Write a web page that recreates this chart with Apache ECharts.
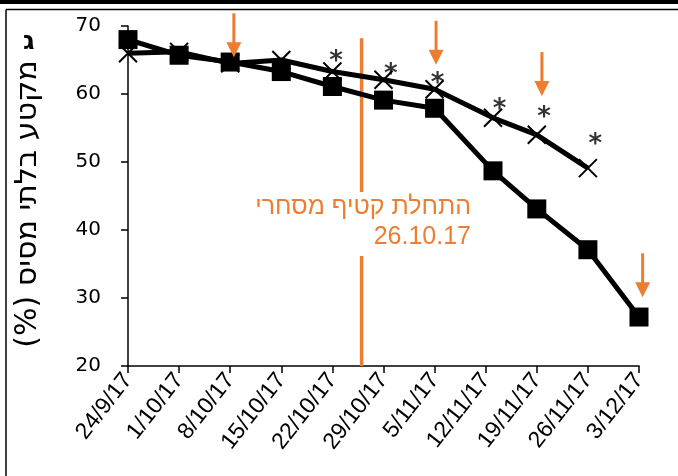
<!DOCTYPE html>
<html>
<head>
<meta charset="utf-8">
<script src="https://cdn.jsdelivr.net/npm/echarts@6/dist/echarts.min.js"></script>
<style>
  html, body { margin: 0; padding: 0; background: #fff; }
  #chart { width: 678px; height: 476px; }
</style>
</head>
<body>
<div id="chart"></div>
<script>
// Sampling days counted from 24/9/17, and the weekly tick labels
const tickLabels = ['24/9/17', '1/10/17', '8/10/17', '15/10/17', '22/10/17', '29/10/17',
                    '5/11/17', '12/11/17', '19/11/17', '26/11/17', '3/12/17'];
const squareDays = [0, 7, 14, 21, 28, 35, 42, 50, 56, 63, 70];
const squareValues = [68.0, 65.7, 64.7, 63.3, 61.1, 59.1, 57.9, 48.7, 43.1, 37.1, 27.2];
const crossDays = [0, 7, 14, 21, 28, 35, 42, 50, 56, 63];
const crossValues = [66.0, 66.2, 64.5, 65.0, 63.3, 62.1, 60.7, 56.5, 54.0, 49.1];

// Significance marks (day, level)
const starDays = [28.5, 36.0, 42.4, 50.9, 57.0, 64.0];
const starValues = [65.7, 63.8, 62.5, 58.7, 57.4, 53.5];

// Orange arrows: day and the level of the arrow tip
const arrowDays = [14.5, 42.2, 56.7, 70.5];
const arrowTips = [65.4, 64.3, 59.7, 30.1];

// Start of commercial harvest, 26.10.17
const harvestDay = 32;
const harvestTop = 68.2;

const yTitle = 'מקטע בלתי מסיס (%)\u200F';
const harvestNote = 'התחלת קטיף מסחרי\n26.10.17';
const panelLetter = 'ג';

const ORANGE = '#ED7D31';
const FONT = "'Liberation Sans', 'DejaVu Sans', sans-serif";
const WIDE = "'DejaVu Sans', 'Liberation Sans', sans-serif";

const chart = echarts.init(document.getElementById('chart'), null, { renderer: 'canvas' });

const option = {
  animation: false,
  backgroundColor: '#fff',
  grid: { left: 128, right: 39, top: 26, bottom: 110, containLabel: false },
  xAxis: {
    type: 'value',
    min: 0, max: 70, interval: 7,
    axisLine: { show: true, lineStyle: { color: '#000', width: 1.5 } },
    axisTick: { show: true, length: 7, lineStyle: { color: '#000', width: 1.5 } },
    splitLine: { show: false },
    axisLabel: {
      rotate: 52, margin: 10, color: '#000', fontSize: 23, fontFamily: FONT,
      formatter: v => tickLabels[Math.round(v / 7)] || ''
    }
  },
  yAxis: {
    type: 'value',
    min: 20, max: 70, interval: 10,
    axisLine: { show: true, lineStyle: { color: '#000', width: 1.5 } },
    axisTick: { show: true, inside: false, length: 7, lineStyle: { color: '#000', width: 1.5 } },
    splitLine: { show: false },
    axisLabel: { margin: 27, color: '#000', fontSize: 20, fontFamily: WIDE }
  },
  series: [
    {
      type: 'line',
      data: crossDays.map((d, i) => [d, crossValues[i]]),
      symbol: 'path://M0,0L10,10M10,0L0,10',
      symbolSize: 18,
      lineStyle: { color: '#000', width: 5 },
      itemStyle: { color: '#000', borderColor: '#000', borderWidth: 2 },
      z: 3
    },
    {
      type: 'line',
      data: squareDays.map((d, i) => [d, squareValues[i]]),
      symbol: 'rect',
      symbolSize: 19,
      lineStyle: { color: '#000', width: 5 },
      itemStyle: { color: '#000' },
      z: 4
    },
    {
      // asterisks above the cross series
      type: 'scatter',
      data: starDays.map((d, i) => [d, starValues[i]]),
      symbolSize: 0,
      label: {
        show: true, position: 'inside', formatter: '*',
        color: '#000', fontSize: 26, fontWeight: 'bold', fontFamily: WIDE, offset: [0, 7]
      },
      z: 5
    },
    {
      // start-of-harvest line
      type: 'custom',
      data: [[harvestDay, 20, harvestTop]],
      clip: false,
      renderItem: (params, api) => {
        const a = api.coord([api.value(0), api.value(1)]);
        const b = api.coord([api.value(0), api.value(2)]);
        return {
          type: 'line',
          shape: { x1: a[0], y1: a[1], x2: b[0], y2: b[1] },
          style: { stroke: ORANGE, lineWidth: 3.5 }
        };
      },
      z: 2
    },
    {
      // downward arrows
      type: 'custom',
      data: arrowDays.map((d, i) => [d, arrowTips[i]]),
      clip: false,
      renderItem: (params, api) => {
        const p = api.coord([api.value(0), api.value(1)]);
        const x = p[0], y = p[1];
        return {
          type: 'group',
          children: [
            { type: 'line', shape: { x1: x, y1: y - 44, x2: x, y2: y - 12 },
              style: { stroke: ORANGE, lineWidth: 3 } },
            { type: 'polygon', shape: { points: [[x - 7.5, y - 15], [x + 7.5, y - 15], [x, y]] },
              style: { fill: ORANGE } }
          ]
        };
      },
      z: 6
    }
  ],
  graphic: [
    { type: 'rect', shape: { x: 0, y: 0, width: 678, height: 4 }, style: { fill: '#000' } },
    { type: 'line', shape: { x1: 6, y1: 9.5, x2: 678, y2: 9.5 }, style: { stroke: '#000', lineWidth: 1.5 } },
    { type: 'line', shape: { x1: 6, y1: 9.5, x2: 6, y2: 476 }, style: { stroke: '#000', lineWidth: 1.5 } },
    {
      type: 'text', x: 23, y: 29,
      style: { text: panelLetter, fill: '#000', font: 'bold 26px ' + WIDE }
    },
    {
      // y-axis title, reading upward
      type: 'text', x: 28, y: 204, rotation: Math.PI / 2,
      style: { text: yTitle, fill: '#000', font: '30px ' + WIDE, align: 'center', verticalAlign: 'middle' }
    },
    {
      type: 'text', x: 471, y: 192, z: 10,
      style: {
        text: harvestNote,
        fill: ORANGE, font: '25px ' + FONT, align: 'right', verticalAlign: 'top',
        lineHeight: 30, backgroundColor: '#fff', padding: [0, 0, 4, 0]
      }
    }
  ]
};

chart.setOption(option);
</script>
</body>
</html>
